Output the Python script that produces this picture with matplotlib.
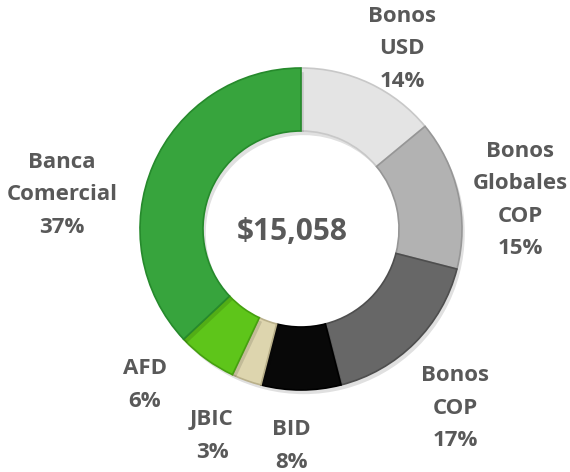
import matplotlib
matplotlib.use("Agg")
import matplotlib.pyplot as plt
import matplotlib.patheffects as pe

categories = ["Bonos\nUSD", "Bonos\nGlobales\nCOP", "Bonos\nCOP", "BID", "JBIC", "AFD", "Banca\nComercial"]
values = [14, 15, 17, 8, 3, 6, 37]
total_label = "$15,058"

colors = ["#e4e4e4", "#b2b2b2", "#676767", "#080808", "#ddd5ae", "#5ec51a", "#37a43d"]
edges = ["#c8c8c8", "#969696", "#4e4e4e", "#000000", "#b9b08a", "#45a010", "#268a2c"]
label_pos = [(402, 49), (520, 200), (455, 408), (291, 446), (212, 436), (145, 385), (62, 195)]

W, H = 570, 472
fig = plt.figure(figsize=(W / 100, H / 100), dpi=100)
ax = fig.add_axes([0, 0, 1, 1])
ax.set_xlim(0, W)
ax.set_ylim(0, H)
ax.set_aspect("equal")
ax.axis("off")

cx, cy = 301, H - 229
R = 161
wedges, _ = ax.pie(values, colors=colors, startangle=90, counterclock=False,
                   radius=R, center=(cx, cy), frame=True,
                   wedgeprops=dict(width=63, linewidth=1.2))
for w, ec in zip(wedges, edges):
    w.set_edgecolor(ec)
    w.set_path_effects([pe.SimplePatchShadow(offset=(2, -3), shadow_rgbFace="#000000", alpha=0.12),
                        pe.Normal()])
ax.set_xlim(0, W)
ax.set_ylim(0, H)
ax.axis("off")

txt_color = "#595959"
for cat, v, (px, py) in zip(categories, values, label_pos):
    ax.text(px, H - py, f"{cat}\n{v}%", ha="center", va="center",
            fontsize=16, fontweight="bold", family="Open Sans", color=txt_color,
            linespacing=1.72)

ax.text(292, H - 232, total_label, ha="center", va="center", fontsize=21.5,
        fontweight="bold", family="Open Sans", color=txt_color)

fig.savefig("out.png", dpi=100)
